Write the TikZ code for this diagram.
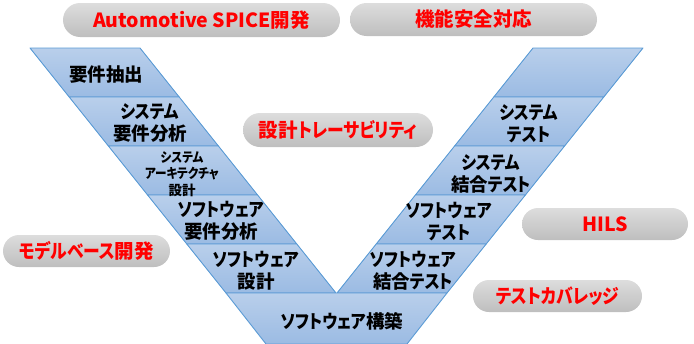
\documentclass[tikz,border=0pt]{standalone}
\usepackage{fontspec}
\setmainfont{Noto Sans CJK JP}[CharacterWidth=AlternateProportional]
\newfontfamily\kanafont{Noto Sans CJK JP}[CharacterWidth=AlternateProportional, FakeStretch=0.86]
\newcommand{\kn}[1]{{\kanafont #1}}
\usetikzlibrary{shapes.misc}
\definecolor{bandtop}{HTML}{B9CFEB}
\definecolor{bandbot}{HTML}{9BBBE3}
\definecolor{bandline}{HTML}{5B9BD5}
\definecolor{pilltop}{HTML}{DDDDDD}
\definecolor{pillbot}{HTML}{BEBEBE}
\definecolor{redtxt}{HTML}{FF0000}
\tikzset{
  band/.style={top color=bandtop, bottom color=bandbot, draw=bandline, line width=0.9pt, line join=round},
  pill/.style={rounded rectangle, top color=pilltop, bottom color=pillbot, draw=none, inner sep=0pt,
    text=redtxt, font=\fontsize{19.5}{22}\selectfont\bfseries},
  lbl/.style={align=center, inner sep=0pt, text=black, font=\fontsize{18.5}{22}\selectfont\bfseries},
  slbl/.style={align=center, inner sep=0pt, text=black, font=\fontsize{13.5}{16.5}\selectfont\bfseries}
}
\begin{document}
\begin{tikzpicture}[x=1pt,y=-1pt]
\useasboundingbox (0,0) rectangle (694,343);
% left arm bands
\foreach \i in {0,...,4}{
  \pgfmathsetmacro{\yt}{48+49*\i}
  \pgfmathsetmacro{\yb}{\yt+49}
  \pgfmathsetmacro{\xa}{30+0.8*(\yt-48)}
  \pgfmathsetmacro{\xb}{140+0.8*(\yt-48)}
  \pgfmathsetmacro{\xc}{140+0.8*(\yb-48)}
  \pgfmathsetmacro{\xd}{30+0.8*(\yb-48)}
  \path[band] (\xa,\yt) -- (\xb,\yt) -- (\xc,\yb) -- (\xd,\yb) -- cycle;
}
% right arm bands
\foreach \i in {0,...,4}{
  \pgfmathsetmacro{\yt}{48+49*\i}
  \pgfmathsetmacro{\yb}{\yt+49}
  \pgfmathsetmacro{\xa}{533-0.8*(\yt-48)}
  \pgfmathsetmacro{\xb}{643-0.8*(\yt-48)}
  \pgfmathsetmacro{\xc}{643-0.8*(\yb-48)}
  \pgfmathsetmacro{\xd}{533-0.8*(\yb-48)}
  \path[band] (\xa,\yt) -- (\xb,\yt) -- (\xc,\yb) -- (\xd,\yb) -- cycle;
}
% bottom band
\path[band] (226,293) -- (447,293) -- (407,344) -- (266,344) -- cycle;

% labels left
\node[lbl] (n1) at (106,75) {要件抽出};
\node[lbl] (n2) at (150,123) {\kn{システム}\\要件分析};
\node[slbl] (n3) at (182,174) {\kn{システム}\\\kn{アーキテクチャ}\\設計};
\node[lbl] (n4) at (221,221) {\kn{ソフトウェア}\\要件分析};
\node[lbl] (n5) at (256,271) {\kn{ソフトウェア}\\設計};
\node[lbl] (n6) at (342,321) {\kn{ソフトウェア}構築};
% labels right
\node[lbl] (r1) at (529,124) {\kn{システム}\\\kn{テスト}};
\node[lbl] (r2) at (491,174) {\kn{システム}\\結合\kn{テスト}};
\node[lbl] (r3) at (449,222) {\kn{ソフトウェア}\\\kn{テスト}};
\node[lbl] (r4) at (413,271) {\kn{ソフトウェア}\\結合\kn{テスト}};

% pills
\node[pill, minimum width=277pt, minimum height=34pt] (p1) at (201.5,20) {Automotive SPICE開発};
\node[pill, minimum width=247pt, minimum height=33pt] (p2) at (473.5,19.5) {機能安全対応};
\node[pill, minimum width=190pt, minimum height=34pt] (p3) at (338,130) {設計\kn{トレーサビリティ}};
\node[pill, minimum width=167pt, minimum height=32pt] (p4) at (86.5,251) {\kn{モデルベース}開発};
\node[pill, minimum width=166pt, minimum height=32pt] (p5) at (605,224) {HILS};
\node[pill, minimum width=169pt, minimum height=32pt] (p6) at (557.5,296) {\kn{テストカバレッジ}};
\end{tikzpicture}
\end{document}
